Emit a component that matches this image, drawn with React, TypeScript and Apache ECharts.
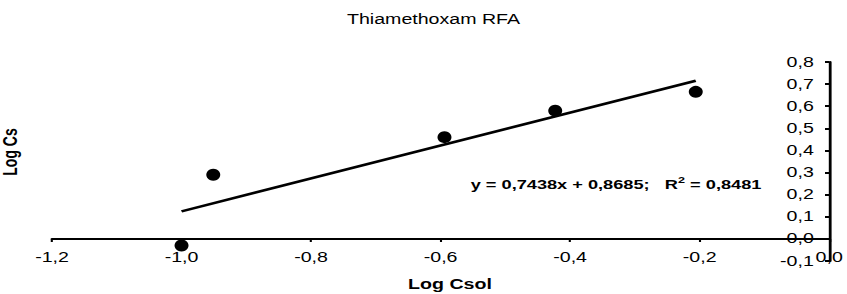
import React, { useEffect, useRef } from "react";
import * as echarts from "echarts";

const titleText = "Thiamethoxam RFA";
const xName = "Log Csol";
const yName = "Log Cs";
const logCsol = [-1.0, -0.951, -0.594, -0.423, -0.206];
const logCs = [-0.03, 0.29, 0.46, 0.58, 0.665];
const slope = 0.7438;
const intercept = 0.8685;
const r2 = "0,8481";

const SX = 1.4;
const W = 847;
const H = 294;
const FONT = "'Liberation Sans', Arial, sans-serif";

const fmt = (v: number) => v.toFixed(1).replace(".", ",");
const fmt4 = (v: number) => v.toFixed(4).replace(".", ",");

export default function App() {
  const ref = useRef<HTMLDivElement>(null);
  useEffect(() => {
    if (!ref.current) return;
    const chart = echarts.init(ref.current, undefined, { renderer: "svg" });
    const innerW = W / SX;
    const xMin = Math.min(...logCsol);
    const xMax = Math.max(...logCsol);
    const trend = [
      [xMin, slope * xMin + intercept],
      [xMax, slope * xMax + intercept],
    ];
    const eq = `y = ${fmt4(slope)}x + ${fmt4(intercept)};   R{sup|2} = ${r2}`;
    chart.setOption({
      animation: false,
      grid: { left: 52 / SX, right: innerW - 832 / SX, top: 62, bottom: H - 261, containLabel: false },
      xAxis: {
        type: "value",
        min: -1.2,
        max: 0,
        interval: 0.2,
        position: "bottom",
        offset: -22,
        axisLine: { onZero: false, lineStyle: { color: "#000", width: 2 } },
        axisTick: { show: true, length: 3, lineStyle: { color: "#000", width: 1.5 } },
        axisLabel: { color: "#000", fontSize: 14, fontFamily: FONT, margin: 11, formatter: (v: number) => fmt(v) },
        splitLine: { show: false },
      },
      yAxis: {
        type: "value",
        min: -0.1,
        max: 0.8,
        interval: 0.1,
        position: "right",
        axisLine: { show: true, onZero: false, lineStyle: { color: "#000", width: 2 } },
        axisTick: { show: true, inside: true, length: 3, lineStyle: { color: "#000", width: 2 } },
        axisLabel: { inside: true, color: "#000", fontSize: 14, fontFamily: FONT, margin: 11, formatter: (v: number) => fmt(v) },
        splitLine: { show: false },
      },
      graphic: [
        {
          type: "text",
          x: 433.5 / SX,
          y: 19,
          style: { text: titleText, fill: "#000", font: `14px ${FONT}`, textAlign: "center", textVerticalAlign: "middle" },
        },
        {
          type: "text",
          x: 450 / SX,
          y: 284,
          style: { text: xName, fill: "#000", font: `bold 14px ${FONT}`, textAlign: "center", textVerticalAlign: "middle" },
        },
        {
          type: "text",
          x: 11 / SX,
          y: 152,
          rotation: Math.PI / 2,
          style: { text: yName, fill: "#000", font: `bold 14px ${FONT}`, textAlign: "center", textVerticalAlign: "middle" },
        },
        {
          type: "text",
          x: 616 / SX,
          y: 184,
          style: {
            text: eq,
            fill: "#000",
            font: `bold 13px ${FONT}`,
            textAlign: "center",
            textVerticalAlign: "middle",
            rich: {
              sup: { fontSize: 9, fontWeight: "bold", fontFamily: FONT, verticalAlign: "top", padding: [0, 0, 8, 0] },
            },
          },
        },
      ],
      series: [
        {
          type: "line",
          data: trend,
          symbol: "none",
          lineStyle: { color: "#000", width: 2.5 },
          z: 2,
        },
        {
          type: "scatter",
          data: logCsol.map((x, i) => [x, logCs[i]]),
          symbol: "circle",
          symbolSize: [10, 12],
          itemStyle: { color: "#000", opacity: 1 },
          z: 3,
        },
      ],
    });
    return () => chart.dispose();
  }, []);
  return (
    <div style={{ position: "fixed", left: 0, top: 0, width: W, height: H, overflow: "hidden", background: "#fff" }}>
      <div
        ref={ref}
        style={{ width: W / SX, height: H, transform: `scaleX(${SX})`, transformOrigin: "0 0" }}
      />
    </div>
  );
}
